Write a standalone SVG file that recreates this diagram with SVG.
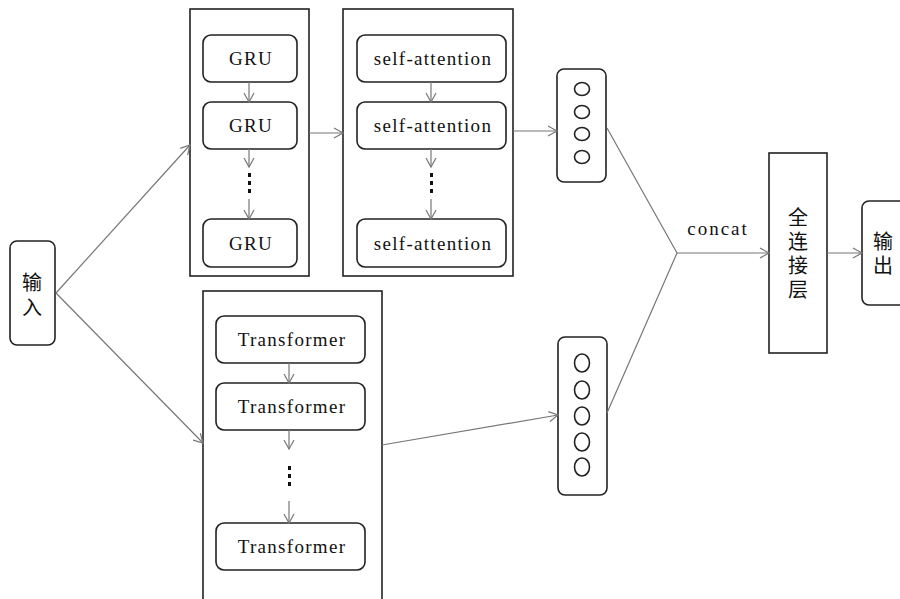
<svg xmlns="http://www.w3.org/2000/svg" width="900" height="599" viewBox="0 0 900 599">
  <style>
    .frame { fill: #fff; stroke: #222; stroke-width: 1.6; }
    .cell { fill: #fff; stroke: #222; stroke-width: 1.6; }
    .lbl { font-family: "Liberation Serif", "Times New Roman", serif; font-size: 19px; letter-spacing: 1.3px; fill: #111; text-anchor: middle; }
    .wide { letter-spacing: 2px; }
    .cjk { font-family: "Liberation Serif", "Noto Sans CJK SC", serif; font-size: 20px; fill: #111; text-anchor: middle; }
    .link { fill: none; stroke: #777; stroke-width: 1.2; }
    .dot { fill: #111; }
    .unit { fill: #fff; stroke: #222; stroke-width: 1.6; }
  </style>
  <defs>
    <marker id="arr" markerWidth="12" markerHeight="12" refX="10" refY="6" orient="auto" markerUnits="userSpaceOnUse">
      <path d="M1,1 L10,6 L1,11" fill="none" stroke="#777" stroke-width="1.2"/>
    </marker>
  </defs>
  <rect width="900" height="599" fill="#fff"/>

  <g id="input">
    <rect class="cell" x="10" y="241" width="45" height="104" rx="7"/>
    <text class="cjk" x="32" y="290">输</text>
    <text class="cjk" x="32" y="315">入</text>
  </g>

  <g id="gru-stack">
    <rect class="frame" x="190" y="9" width="119" height="267"/>
    <rect class="cell" x="203" y="35" width="94" height="47" rx="8"/>
    <text class="lbl" x="251" y="65">GRU</text>
    <rect class="cell" x="203" y="102" width="94" height="47" rx="8"/>
    <text class="lbl" x="251" y="132">GRU</text>
    <rect class="dot" x="248" y="173" width="3" height="4"/>
    <rect class="dot" x="248" y="181" width="3" height="4"/>
    <rect class="dot" x="248" y="189" width="3" height="4"/>
    <rect class="cell" x="203" y="219" width="94" height="48" rx="8"/>
    <text class="lbl" x="251" y="250">GRU</text>
  </g>

  <g id="attention-stack">
    <rect class="frame" x="343" y="9" width="170" height="267"/>
    <rect class="cell" x="357" y="35" width="149" height="47" rx="8"/>
    <text class="lbl" x="433" y="65">self-attention</text>
    <rect class="cell" x="357" y="102" width="149" height="47" rx="8"/>
    <text class="lbl" x="433" y="132">self-attention</text>
    <rect class="dot" x="430" y="173" width="3" height="4"/>
    <rect class="dot" x="430" y="181" width="3" height="4"/>
    <rect class="dot" x="430" y="189" width="3" height="4"/>
    <rect class="cell" x="357" y="219" width="149" height="48" rx="8"/>
    <text class="lbl" x="433" y="250">self-attention</text>
  </g>

  <g id="transformer-stack">
    <rect class="frame" x="203" y="291" width="179" height="320"/>
    <rect class="cell" x="216" y="316" width="149" height="47" rx="8"/>
    <text class="lbl" x="292" y="346">Transformer</text>
    <rect class="cell" x="216" y="383" width="149" height="47" rx="8"/>
    <text class="lbl" x="292" y="413">Transformer</text>
    <rect class="dot" x="288" y="466" width="3" height="4"/>
    <rect class="dot" x="288" y="474" width="3" height="4"/>
    <rect class="dot" x="288" y="482" width="3" height="4"/>
    <rect class="cell" x="216" y="523" width="149" height="47" rx="8"/>
    <text class="lbl" x="292" y="553">Transformer</text>
  </g>

  <g id="vector-top">
    <rect class="cell" x="557" y="69" width="49" height="113" rx="7"/>
    <ellipse class="unit" cx="582" cy="89" rx="7.5" ry="6.5"/>
    <ellipse class="unit" cx="582" cy="112" rx="7.5" ry="6.5"/>
    <ellipse class="unit" cx="582" cy="134" rx="7.5" ry="6.5"/>
    <ellipse class="unit" cx="582" cy="157" rx="7.5" ry="6.5"/>
  </g>

  <g id="vector-bottom">
    <rect class="cell" x="558" y="337" width="49" height="158" rx="7"/>
    <ellipse class="unit" cx="582" cy="363" rx="7.5" ry="9"/>
    <ellipse class="unit" cx="582" cy="390" rx="7.5" ry="9"/>
    <ellipse class="unit" cx="582" cy="416" rx="7.5" ry="9"/>
    <ellipse class="unit" cx="582" cy="442" rx="7.5" ry="9"/>
    <ellipse class="unit" cx="582" cy="467" rx="7.5" ry="9"/>
  </g>

  <g id="concat-label">
    <text class="lbl wide" x="718" y="235">concat</text>
  </g>

  <g id="dense">
    <rect class="frame" x="769" y="153" width="58" height="200"/>
    <text class="cjk" x="798" y="225">全</text>
    <text class="cjk" x="798" y="249">连</text>
    <text class="cjk" x="798" y="273">接</text>
    <text class="cjk" x="798" y="297">层</text>
  </g>

  <g id="output">
    <rect class="cell" x="862" y="201" width="50" height="104" rx="7"/>
    <text class="cjk" x="883" y="249">输</text>
    <text class="cjk" x="883" y="273">出</text>
  </g>

  <!-- connectors, drawn last so they sit above the filled frames -->
  <g id="connectors">
    <line class="link" x1="56" y1="293" x2="190" y2="145" marker-end="url(#arr)"/>
    <line class="link" x1="56" y1="293" x2="203" y2="443" marker-end="url(#arr)"/>
    <line class="link" x1="249" y1="82" x2="249" y2="102" marker-end="url(#arr)"/>
    <line class="link" x1="249" y1="149" x2="249" y2="167" marker-end="url(#arr)"/>
    <line class="link" x1="249" y1="199" x2="249" y2="219" marker-end="url(#arr)"/>
    <line class="link" x1="431" y1="82" x2="431" y2="102" marker-end="url(#arr)"/>
    <line class="link" x1="431" y1="149" x2="431" y2="167" marker-end="url(#arr)"/>
    <line class="link" x1="431" y1="199" x2="431" y2="219" marker-end="url(#arr)"/>
    <line class="link" x1="289" y1="363" x2="289" y2="383" marker-end="url(#arr)"/>
    <line class="link" x1="289" y1="430" x2="289" y2="449" marker-end="url(#arr)"/>
    <line class="link" x1="289" y1="501" x2="289" y2="523" marker-end="url(#arr)"/>
    <line class="link" x1="309" y1="133" x2="343" y2="133" marker-end="url(#arr)"/>
    <line class="link" x1="513" y1="131" x2="557" y2="131" marker-end="url(#arr)"/>
    <line class="link" x1="382" y1="445" x2="558" y2="415" marker-end="url(#arr)"/>
    <polyline class="link" points="607,128 677,253 607,413"/>
    <line class="link" x1="677" y1="253" x2="769" y2="253" marker-end="url(#arr)"/>
    <line class="link" x1="827" y1="253" x2="862" y2="253" marker-end="url(#arr)"/>
  </g>
</svg>
